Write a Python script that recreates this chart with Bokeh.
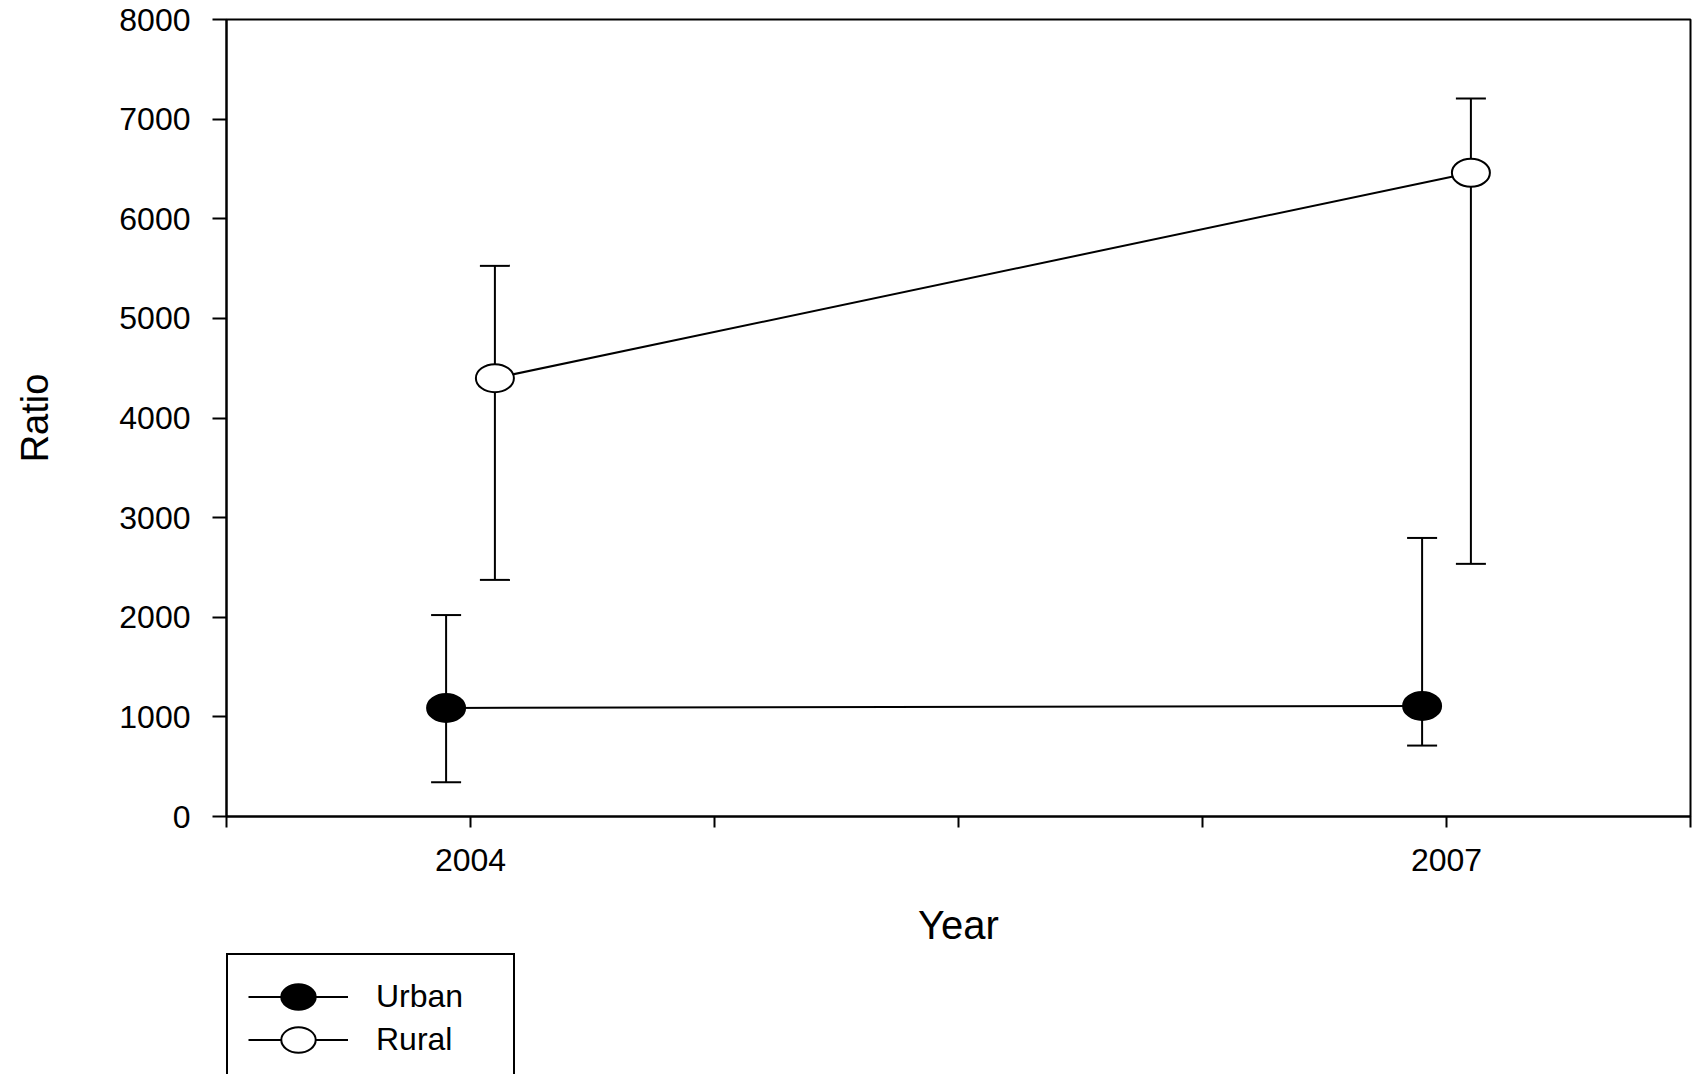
from bokeh.plotting import figure
from bokeh.models import (ColumnDataSource, Whisker, TeeHead, Range1d, FixedTicker,
                          Legend, LegendItem)
from bokeh.layouts import column
from bokeh.embed import file_html
from bokeh.resources import INLINE

# ---- data ----
years = [2004, 2007]
urban_mean = [1090, 1110]
urban_lower = [345, 712]
urban_upper = [2022, 2796]
rural_mean = [4400, 6462]
rural_lower = [2375, 2536]
rural_upper = [5527, 7207]
tick_labels = {2004: "2004", 2007: "2007"}
y_ticks = [0, 1000, 2000, 3000, 4000, 5000, 6000, 7000, 8000]

FONT = "Liberation Sans"
DODGE = 0.075

x_start, x_end, x_step = 2003.25, 2007.75, 0.75
x_ticks = [x_start + x_step * k for k in range(7)]

p = figure(width=1692, height=952, output_backend="svg", toolbar_location=None,
           x_range=Range1d(x_start, x_end), y_range=Range1d(0, 8000),
           min_border_left=226, min_border_right=2, min_border_top=19,
           min_border_bottom=136)
p.background_fill_color = "white"
p.border_fill_color = "white"
p.outline_line_color = "black"
p.outline_line_width = 2
p.xgrid.visible = False
p.ygrid.visible = False

src_u = ColumnDataSource(dict(x=[y - DODGE for y in years], y=urban_mean,
                              lo=urban_lower, hi=urban_upper))
src_r = ColumnDataSource(dict(x=[y + DODGE for y in years], y=rural_mean,
                              lo=rural_lower, hi=rural_upper))

for src in (src_u, src_r):
    w = Whisker(source=src, base="x", lower="lo", upper="hi", dimension="height",
                line_color="black", line_width=2,
                upper_head=TeeHead(size=30, line_color="black", line_width=2),
                lower_head=TeeHead(size=30, line_color="black", line_width=2))
    w.level = "underlay"
    p.add_layout(w)


def draw_series(fig, src, fill):
    ln = fig.line("x", "y", source=src, line_color="black", line_width=2)
    el = fig.ellipse("x", "y", source=src, width=38, height=28,
                     width_units="screen", height_units="screen",
                     fill_color=fill, line_color="black", line_width=2)
    return ln, el


draw_series(p, src_u, "black")
draw_series(p, src_r, "white")

# axes
xa = p.xaxis[0]
xa.ticker = FixedTicker(ticks=x_ticks)
xa.major_label_overrides = {t: tick_labels.get(t, "") for t in x_ticks}
xa.minor_tick_line_color = None
xa.major_tick_in = 0
xa.major_tick_out = 11
xa.major_tick_line_width = 2
xa.axis_line_width = 2
xa.major_label_text_font = FONT
xa.major_label_text_font_size = "32px"
xa.major_label_text_color = "black"
xa.major_label_standoff = 21
xa.axis_label = "Year"
xa.axis_label_text_font = FONT
xa.axis_label_text_font_size = "40px"
xa.axis_label_text_font_style = "normal"
xa.axis_label_text_color = "black"
xa.axis_label_standoff = 29

ya = p.yaxis[0]
ya.ticker = FixedTicker(ticks=y_ticks)
ya.minor_tick_line_color = None
ya.major_tick_in = 0
ya.major_tick_out = 14
ya.major_tick_line_width = 2
ya.axis_line_width = 2
ya.major_label_text_font = FONT
ya.major_label_text_font_size = "32px"
ya.major_label_text_color = "black"
ya.major_label_standoff = 22
ya.axis_label = "Ratio"
ya.axis_label_text_font = FONT
ya.axis_label_text_font_size = "38px"
ya.axis_label_text_font_style = "normal"
ya.axis_label_text_color = "black"
ya.axis_label_standoff = 60

# legend panel below the chart (cropped at the bottom like the reference)
lf = figure(width=1692, height=122, output_backend="svg", toolbar_location=None,
            x_axis_type=None, y_axis_type=None,
            x_range=Range1d(0, 1), y_range=Range1d(0, 1),
            min_border_left=225, min_border_right=0, min_border_top=1,
            min_border_bottom=0)
lf.outline_line_color = None
lf.background_fill_color = "white"
lf.border_fill_color = "white"
lf.grid.visible = False

lu, eu = draw_series(lf, src_u, "black")
lr, er = draw_series(lf, src_r, "white")

legend = Legend(items=[LegendItem(label="Urban", renderers=[lu, eu]),
                       LegendItem(label="Rural", renderers=[lr, er])],
                location="top_left", orientation="vertical",
                glyph_width=100, glyph_height=43, label_height=43,
                label_width=117, label_standoff=28, spacing=0, padding=20,
                margin=0, label_text_font=FONT, label_text_font_size="32px",
                label_text_color="black",
                border_line_color="black", border_line_width=2,
                border_line_alpha=1.0,
                background_fill_color="white", background_fill_alpha=1)
lf.add_layout(legend, "center")

layout = column(p, lf, spacing=0)
open("out.html", "w").write(file_html(layout, INLINE))
